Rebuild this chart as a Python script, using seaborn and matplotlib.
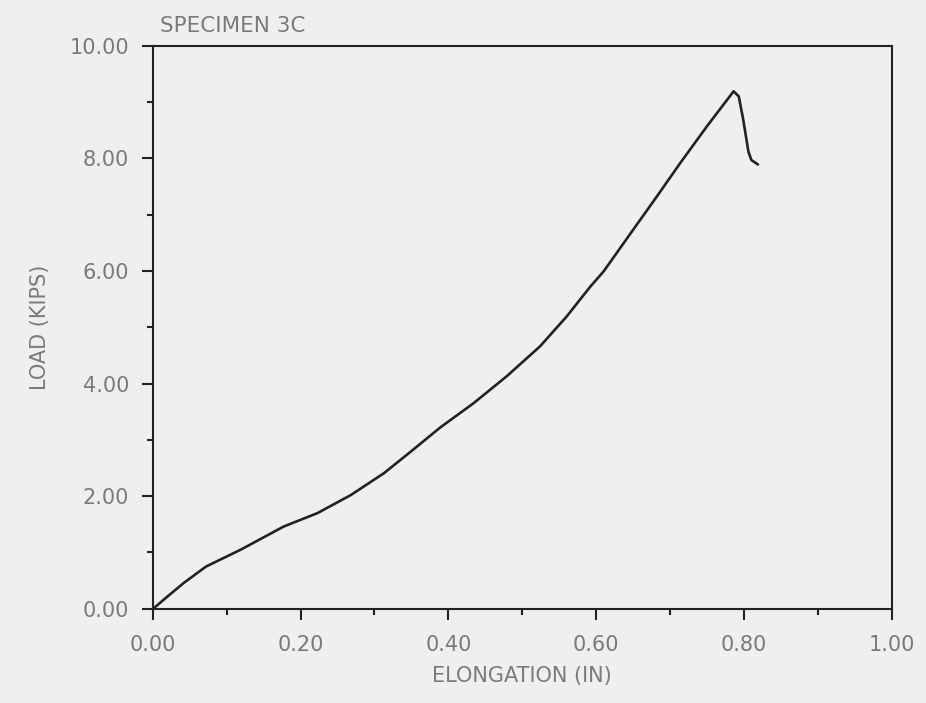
import matplotlib
matplotlib.use("Agg")
import matplotlib.pyplot as plt
from matplotlib.ticker import MultipleLocator, FormatStrFormatter
import pandas as pd
import seaborn as sns

# load-elongation curve
elongation = [0.0, 0.004, 0.02, 0.042, 0.072, 0.119, 0.177, 0.223, 0.268,
              0.313, 0.349, 0.389, 0.434, 0.479, 0.524, 0.560, 0.592, 0.610,
              0.650, 0.682, 0.714, 0.750, 0.786, 0.793, 0.799, 0.806, 0.810,
              0.819]
load = [0.0, 0.04, 0.22, 0.46, 0.75, 1.05, 1.46, 1.70, 2.02,
        2.41, 2.79, 3.22, 3.65, 4.13, 4.66, 5.19, 5.72, 5.99,
        6.73, 7.32, 7.92, 8.57, 9.19, 9.10, 8.69, 8.12, 7.97,
        7.89]

df = pd.DataFrame({"elongation": elongation, "load": load})

bg = "#efefef"
ink = "#222222"
text_gray = "#7a7a7a"

sns.set_theme(style="ticks")
plt.rcParams["font.family"] = ["DejaVu Sans"]

fig = plt.figure(figsize=(9.26, 7.03), dpi=100, facecolor=bg)
ax = fig.add_axes([0.165, 0.134, 0.798, 0.801])
ax.set_facecolor(bg)

sns.lineplot(data=df, x="elongation", y="load", ax=ax, sort=False,
             estimator=None, color=ink, linewidth=1.9)

ax.set_xlim(0, 1)
ax.set_ylim(0, 10)
ax.xaxis.set_major_locator(MultipleLocator(0.2))
ax.xaxis.set_minor_locator(MultipleLocator(0.1))
ax.yaxis.set_major_locator(MultipleLocator(2))
ax.yaxis.set_minor_locator(MultipleLocator(1))
ax.xaxis.set_major_formatter(FormatStrFormatter("%.2f"))
ax.yaxis.set_major_formatter(FormatStrFormatter("%.2f"))

for side in ["left", "bottom", "top", "right"]:
    ax.spines[side].set_visible(True)
    ax.spines[side].set_color(ink)
    ax.spines[side].set_linewidth(1.5)

ax.tick_params(which="major", direction="out", length=8, width=1.5,
               color=ink, labelsize=15, labelcolor=text_gray)
ax.tick_params(which="minor", direction="out", length=4, width=1.5, color=ink)
ax.tick_params(axis="x", which="major", pad=11)
ax.tick_params(axis="y", which="major", pad=9)

ax.set_xlabel("ELONGATION (IN)", fontsize=15, color=text_gray, labelpad=8)
ax.set_ylabel("LOAD (KIPS)", fontsize=15, color=text_gray, labelpad=14)
ax.set_title("SPECIMEN 3C", fontsize=15.5, color=text_gray, loc="left",
             pad=10, x=0.01)

fig.savefig("out.png", dpi=100, facecolor=bg)
